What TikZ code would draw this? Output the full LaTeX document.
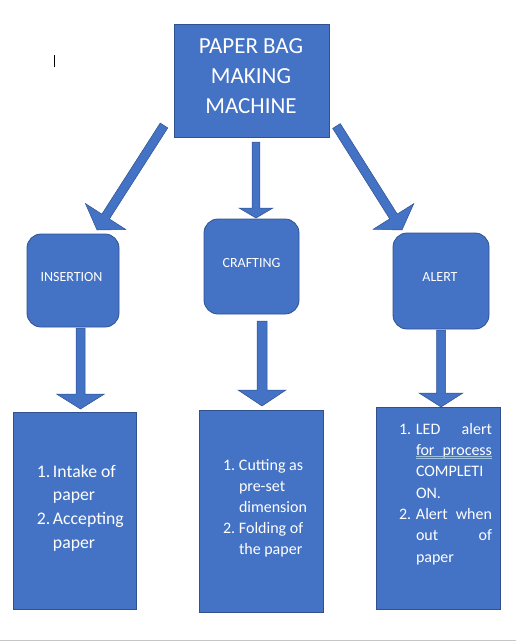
\documentclass[tikz,border=0pt]{standalone}
\usepackage{fontspec}
\setmainfont{Carlito}
\usetikzlibrary{calc}
\definecolor{boxfill}{HTML}{4472C4}
\definecolor{boxline}{HTML}{2F528F}
\definecolor{squiggle}{HTML}{9DC3E6}
\newcommand\blockarrow[5]{%
  \path ($(#2)!#5!(#1)$) coordinate (bah);
  \draw[barrow] ($(#1)!#3!90:(#2)$) -- ($(bah)!#3!90:(#2)$) -- ($(bah)!#4!90:(#2)$) -- (#2)
    -- ($(bah)!#4!-90:(#2)$) -- ($(bah)!#3!-90:(#2)$) -- ($(#1)!#3!-90:(#2)$) -- cycle;}
\begin{document}
\begin{tikzpicture}[x=1pt,y=-1pt,
  box/.style={draw=boxline, fill=boxfill, line width=0.8pt, inner sep=0pt, outer sep=0pt},
  rbox/.style={box, rounded corners=14pt},
  barrow/.style={draw=boxline, fill=boxfill, line width=0.5pt},
  txt/.style={text=white, inner sep=0pt, outer sep=0pt},
  lbl/.style={txt, font=\fontsize{14}{16}\selectfont, anchor=base}]
\useasboundingbox (0,0) rectangle (516,641);
% page edge and cursor
\coordinate (pl) at (0,640.3);
\coordinate (pr) at (516,640.3);
\draw[gray!45, line width=1pt] (pl) -- (pr);
\coordinate (ct) at (54,55);
\coordinate (cb) at (54,67);
\draw[black, line width=0.8pt] (ct) -- (cb);
% boxes
\node[box, minimum width=155pt, minimum height=113pt] (top) at (251.5,80.5) {};
\node[rbox, minimum width=92pt, minimum height=93pt] (ins) at (73,280.5) {};
\node[rbox, minimum width=95pt, minimum height=95pt] (cra) at (251.5,266.5) {};
\node[rbox, minimum width=96pt, minimum height=96pt] (ale) at (441,281) {};
\node[box, minimum width=123pt, minimum height=197pt] (b1) at (74.5,510.5) {};
\node[box, minimum width=124pt, minimum height=202pt] (b2) at (261,511) {};
\node[box, minimum width=124pt, minimum height=202pt] (b3) at (438,508) {};
% titles
\node[txt, align=center, font=\fontsize{23}{30}\selectfont] (title) at (251,76.6)
  {PAPER BAG\\MAKING\\MACHINE};
\node[lbl] (tins) at (71.5,281.7) {INSERTION};
\node[lbl] (tcra) at (251.5,267.7) {CRAFTING};
\node[lbl] (tale) at (440,281.7) {ALERT};
% lists
\node[txt, anchor=base west, font=\fontsize{17.7}{23.7}\selectfont] (l1) at (37,477)
  {\begin{tabular}[t]{@{}p{16pt}@{}l@{}}1.&Intake of\\&paper\\2.&Accepting\\&paper\end{tabular}};
\node[txt, anchor=base west, font=\fontsize{16}{21}\selectfont] (l2) at (223,470.5)
  {\begin{tabular}[t]{@{}p{16pt}@{}l@{}}1.&Cutting as\\&pre-set\\&dimension\\2.&Folding of\\&the paper\end{tabular}};
\node[txt, anchor=base west, font=\fontsize{16}{21.3}\selectfont] (l3) at (399,434.3)
  {\begin{tabular}[t]{@{}p{17pt}@{}l@{}}1.&\makebox[76pt][s]{LED alert}\\&\makebox[76pt][s]{for process}\\&COMPLETI\\&ON.\\2.&\makebox[76pt][s]{Alert when}\\&\makebox[76pt][s]{out of}\\&paper\end{tabular}};
\coordinate (ul1) at (416,456.5);
\coordinate (ur1) at (492,456.5);
\coordinate (ul2) at (416,458.2);
\coordinate (ur2) at (492,458.2);
\draw[squiggle, line width=0.6pt] (ul1) -- (ur1);
\draw[squiggle, line width=0.6pt] (ul2) -- (ur2);
% arrows
\coordinate (a1s) at (164,125.5); \coordinate (a1e) at (97,230);
\coordinate (a2s) at (256,142);   \coordinate (a2e) at (256,218);
\coordinate (a3s) at (336.5,126); \coordinate (a3e) at (402,230);
\coordinate (b1s) at (80.5,328);  \coordinate (b1e) at (80.5,409);
\coordinate (b2s) at (262,321);   \coordinate (b2e) at (262,406);
\coordinate (b3s) at (441,330);   \coordinate (b3e) at (441,407);
\blockarrow{a1s}{a1e}{4.5pt}{24pt}{16pt}
\blockarrow{a2s}{a2e}{3.8pt}{17pt}{10pt}
\blockarrow{a3s}{a3e}{4.5pt}{24pt}{16pt}
\blockarrow{b1s}{b1e}{4.5pt}{24pt}{15pt}
\blockarrow{b2s}{b2e}{5pt}{24pt}{16pt}
\blockarrow{b3s}{b3e}{4.5pt}{22pt}{14pt}
\end{tikzpicture}
\end{document}
